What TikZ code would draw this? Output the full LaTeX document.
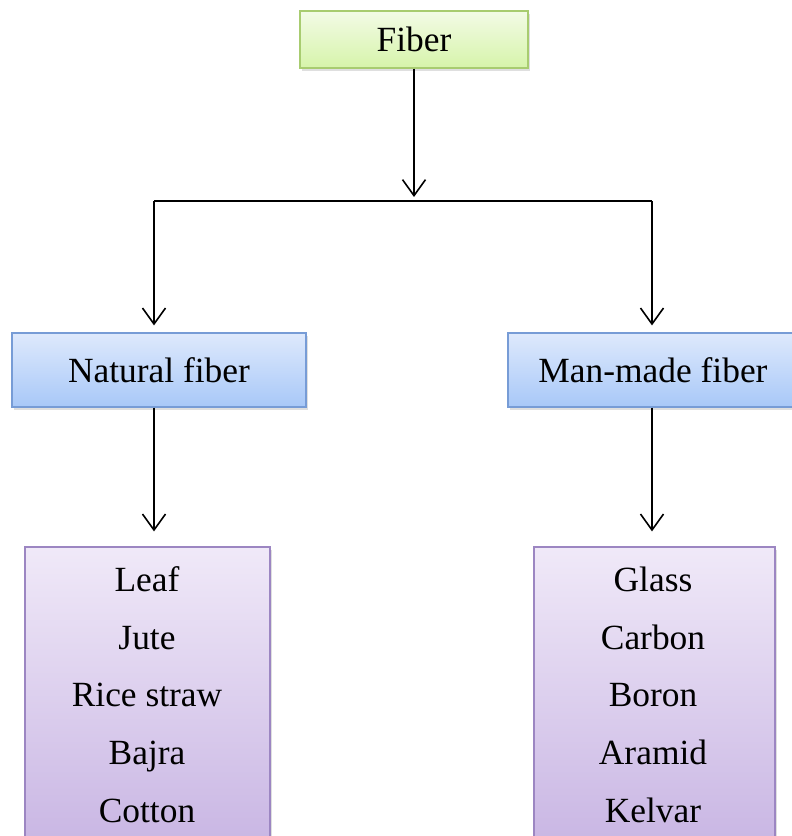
\documentclass[tikz,border=0pt]{standalone}
\usepackage{fontspec}
\setmainfont{Liberation Serif}
\usetikzlibrary{arrows.meta,shadows}
\definecolor{gtop}{HTML}{F3FBE6}
\definecolor{gbot}{HTML}{D6F4AA}
\definecolor{gbrd}{HTML}{A8CC70}
\definecolor{btop}{HTML}{DEE9FC}
\definecolor{bbot}{HTML}{A8C8F8}
\definecolor{bbrd}{HTML}{779CD6}
\definecolor{ptop}{HTML}{F0E9F8}
\definecolor{pbot}{HTML}{C6B2E2}
\definecolor{pbrd}{HTML}{9C86C2}
\tikzset{
  box/.style={rectangle, draw, line width=1.2pt, inner sep=0pt,
    font=\fontsize{35.4}{42}\selectfont,
    drop shadow={opacity=0.25, shadow xshift=1.5pt, shadow yshift=-2.5pt}},
  greenbox/.style={box, draw=gbrd, top color=gtop, bottom color=gbot},
  bluebox/.style={box, draw=bbrd, top color=btop, bottom color=bbot},
  purplebox/.style={box, draw=pbrd, top color=ptop, bottom color=pbot},
  item/.style={anchor=base, inner sep=0pt, font=\fontsize{35.4}{42}\selectfont},
  conn/.style={line width=1.6pt, black},
  arr/.style={conn, -{Straight Barb[length=16pt,width=23pt,line width=1.6pt]}}
}
\begin{document}
\begin{tikzpicture}[x=1pt,y=-1pt]
\useasboundingbox (0,0) rectangle (792,836);
\clip (0,0) rectangle (792,836);
\fill[white] (0,0) rectangle (792,836);
% boxes
\node[greenbox, minimum width=228pt, minimum height=57pt] (fiber) at (414,39.5) {\raisebox{-1.5pt}{Fiber}};
\node[bluebox, minimum width=294pt, minimum height=74pt] (nat) at (159,370) {Natural fiber};
\node[bluebox, minimum width=292pt, minimum height=74pt] (man) at (654,370) {\hspace*{-2pt}Man-made fiber};
\node[purplebox, minimum width=245pt, minimum height=320pt] (nlist) at (147.5,707) {};
\node[purplebox, minimum width=241pt, minimum height=320pt] (mlist) at (654.5,707) {};
% list items
\node[item] (n1) at (147,591) {Leaf};
\node[item] (n2) at (147,649) {Jute};
\node[item] (n3) at (147,706) {Rice straw};
\node[item] (n4) at (147,764) {Bajra};
\node[item] (n5) at (147,822) {Cotton};
\node[item] (m1) at (653,591) {Glass};
\node[item] (m2) at (653,649) {Carbon};
\node[item] (m3) at (653,706) {Boron};
\node[item] (m4) at (653,764) {Aramid};
\node[item] (m5) at (653,822) {Kelvar};
% connectors
\coordinate (hub) at (414,197);
\coordinate (hl) at (154,201);
\coordinate (hr) at (652,201);
\draw[arr] (fiber.south) -- (hub);
\draw[conn] (hl) -- (hr);
\draw[arr, shorten >=7pt] (hl) -- (hl |- nat.north);
\draw[arr, shorten >=7pt] (hr) -- (hr |- man.north);
\draw[arr, shorten >=15pt] (nat.south -| hl) -- (hl |- nlist.north);
\draw[arr, shorten >=15pt] (man.south -| hr) -- (hr |- mlist.north);
\end{tikzpicture}
\end{document}
